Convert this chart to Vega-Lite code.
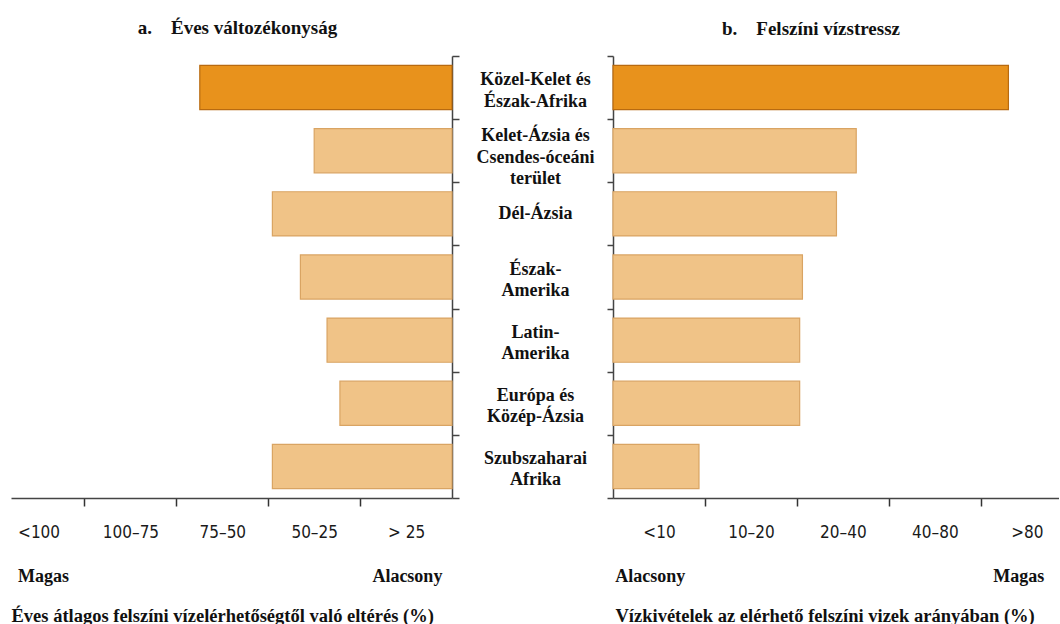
{
  "$schema": "https://vega.github.io/schema/vega-lite/v6.json",
  "padding": {"left": 11, "top": 19, "right": 0, "bottom": 0},
  "background": "white",
  "data": {"values": [
    {"regio": "Közel-Kelet és\nÉszak-Afrika", "valtozekonysag": 2.745, "vizstressz": 4.30},
    {"regio": "Kelet-Ázsia és\nCsendes-óceáni\nterület", "valtozekonysag": 1.50, "vizstressz": 2.645},
    {"regio": "Dél-Ázsia", "valtozekonysag": 1.955, "vizstressz": 2.43},
    {"regio": "Észak-\nAmerika", "valtozekonysag": 1.65, "vizstressz": 2.06},
    {"regio": "Latin-\nAmerika", "valtozekonysag": 1.36, "vizstressz": 2.03},
    {"regio": "Európa és\nKözép-Ázsia", "valtozekonysag": 1.22, "vizstressz": 2.03},
    {"regio": "Szubszaharai\nAfrika", "valtozekonysag": 1.955, "vizstressz": 0.935}
  ]},
  "spacing": 161,
  "bounds": "flush",
  "hconcat": [
    {
      "width": 441,
      "height": 442,
      "title": {"text": "a.\u00a0\u00a0\u00a0 Éves változékonyság", "dx": 6, "offset": 17, "font": "Liberation Serif", "fontSize": 19, "fontWeight": "bold", "color": "#111"},
      "layer": [
        {
          "mark": {"type": "bar", "strokeWidth": 0, "height": {"band": 0.7}},
          "encoding": {
            "y": {"field": "regio", "type": "nominal", "sort": null,
              "scale": {"paddingInner": 0, "paddingOuter": 0},
              "axis": {"orient": "right", "labels": false, "tickBand": "extent", "tickSize": 7, "title": null, "domainColor": "#444", "tickColor": "#444", "domainWidth": 1.5, "tickWidth": 1.5}},
            "x": {"field": "valtozekonysag", "type": "quantitative",
              "scale": {"domain": [0, 4.8], "reverse": true, "nice": false, "zero": true},
              "axis": {"orient": "bottom", "title": null, "grid": false,
                "values": [0.5, 1, 1.5, 2, 2.5, 3, 3.5, 4, 4.5],
                "labelExpr": "datum.value == 0.5 ? '> 25' : datum.value == 1.5 ? '50–25' : datum.value == 2.5 ? '75–50' : datum.value == 3.5 ? '100–75' : datum.value == 4.5 ? '<100' : ''",
                "tickOpacity": {"condition": {"test": "datum.value % 1 == 0", "value": 1}, "value": 0},
                "tickSize": 8, "tickWidth": 1.5, "tickColor": "#333", "domainColor": "#444", "domainWidth": 1.5,
                "labelPadding": 18, "labelOverlap": false, "labelFlush": false,
                "labelFont": "DejaVu Sans Condensed, Liberation Sans Narrow, sans-serif", "labelFontSize": 17, "labelColor": "#1a1a1a"}},
            "color": {"condition": {"test": "indexof(datum.regio, 'Közel-Kelet') == 0", "value": "#E8921C"}, "value": "#F0C387"}
          }
        },
        {
          "mark": {"type": "bar", "filled": false, "strokeWidth": 1.2, "height": {"band": 0.7}},
          "encoding": {
            "y": {"field": "regio", "type": "nominal", "sort": null},
            "x": {"field": "valtozekonysag", "type": "quantitative",
              "axis": {"orient": "bottom", "grid": false, "domain": false, "ticks": false,
                "values": [4.73, 0.11],
                "labelExpr": "datum.value > 2 ? 'Magas' : 'Alacsony'",
                "labelAlign": {"condition": {"test": "datum.value > 2", "value": "left"}, "value": "right"},
                "labelPadding": 69, "labelOverlap": false, "labelFlush": false,
                "labelFont": "Liberation Serif", "labelFontWeight": "bold", "labelFontSize": 18, "labelColor": "#111",
                "title": "Éves átlagos felszíni vízelérhetőségtől való eltérés (%)",
                "titleX": 0, "titleAlign": "left", "titlePadding": 21,
                "titleFont": "Liberation Serif", "titleFontWeight": "bold", "titleFontSize": 18.5, "titleColor": "#111"}},
            "color": {"condition": {"test": "indexof(datum.regio, 'Közel-Kelet') == 0", "value": "#B86A10"}, "value": "#D9A463"}
          }
        }
      ],
      "resolve": {"axis": {"x": "independent"}}
    },
    {
      "width": 446,
      "height": 442,
      "title": {"text": "b.\u00a0\u00a0\u00a0 Felszíni vízstressz", "dx": -25, "offset": 8, "font": "Liberation Serif", "fontSize": 19, "fontWeight": "bold", "color": "#111"},
      "layer": [
        {
          "mark": {"type": "bar", "strokeWidth": 0, "height": {"band": 0.7}},
          "encoding": {
            "y": {"field": "regio", "type": "nominal", "sort": null,
              "scale": {"paddingInner": 0, "paddingOuter": 0},
              "axis": {"orient": "left", "tickBand": "extent", "tickSize": 6, "title": null, "domainColor": "#444", "tickColor": "#444", "domainWidth": 1.5, "tickWidth": 1.5,
                "labelExpr": "split(datum.label, '\\n')",
                "labelAlign": "center", "labelBaseline": "middle", "labelPadding": 72, "labelLimit": 0,
                "labelOffset": {"condition": [{"test": "length(split(datum.label, '\\n')) == 3", "value": -15}, {"test": "length(split(datum.label, '\\n')) == 2", "value": -8}], "value": 0},
                "labelFont": "Liberation Serif", "labelFontWeight": "bold", "labelFontSize": 18, "labelLineHeight": 21.5, "labelColor": "#111"}},
            "x": {"field": "vizstressz", "type": "quantitative",
              "scale": {"domain": [0, 4.85], "nice": false, "zero": true},
              "axis": {"orient": "bottom", "title": null, "grid": false,
                "values": [0.5, 1, 1.5, 2, 2.5, 3, 3.5, 4, 4.5],
                "labelExpr": "datum.value == 0.5 ? '<10' : datum.value == 1.5 ? '10–20' : datum.value == 2.5 ? '20–40' : datum.value == 3.5 ? '40–80' : datum.value == 4.5 ? '>80' : ''",
                "tickOpacity": {"condition": {"test": "datum.value % 1 == 0", "value": 1}, "value": 0},
                "tickSize": 8, "tickWidth": 1.5, "tickColor": "#333", "domainColor": "#444", "domainWidth": 1.5,
                "labelPadding": 18, "labelOverlap": false, "labelFlush": false,
                "labelFont": "DejaVu Sans Condensed, Liberation Sans Narrow, sans-serif", "labelFontSize": 17, "labelColor": "#1a1a1a"}},
            "color": {"condition": {"test": "indexof(datum.regio, 'Közel-Kelet') == 0", "value": "#E8921C"}, "value": "#F0C387"}
          }
        },
        {
          "mark": {"type": "bar", "filled": false, "strokeWidth": 1.2, "height": {"band": 0.7}},
          "encoding": {
            "y": {"field": "regio", "type": "nominal", "sort": null},
            "x": {"field": "vizstressz", "type": "quantitative",
              "axis": {"orient": "bottom", "grid": false, "domain": false, "ticks": false,
                "values": [0.02, 4.685],
                "labelExpr": "datum.value > 2 ? 'Magas' : 'Alacsony'",
                "labelAlign": {"condition": {"test": "datum.value > 2", "value": "right"}, "value": "left"},
                "labelPadding": 69, "labelOverlap": false, "labelFlush": false,
                "labelFont": "Liberation Serif", "labelFontWeight": "bold", "labelFontSize": 18, "labelColor": "#111",
                "title": "Vízkivételek az elérhető felszíni vizek arányában (%)",
                "titleX": 2, "titleAlign": "left", "titlePadding": 21,
                "titleFont": "Liberation Serif", "titleFontWeight": "bold", "titleFontSize": 18.5, "titleColor": "#111"}},
            "color": {"condition": {"test": "indexof(datum.regio, 'Közel-Kelet') == 0", "value": "#B86A10"}, "value": "#D9A463"}
          }
        }
      ],
      "resolve": {"axis": {"x": "independent"}}
    }
  ],
  "config": {"view": {"stroke": null}}
}
